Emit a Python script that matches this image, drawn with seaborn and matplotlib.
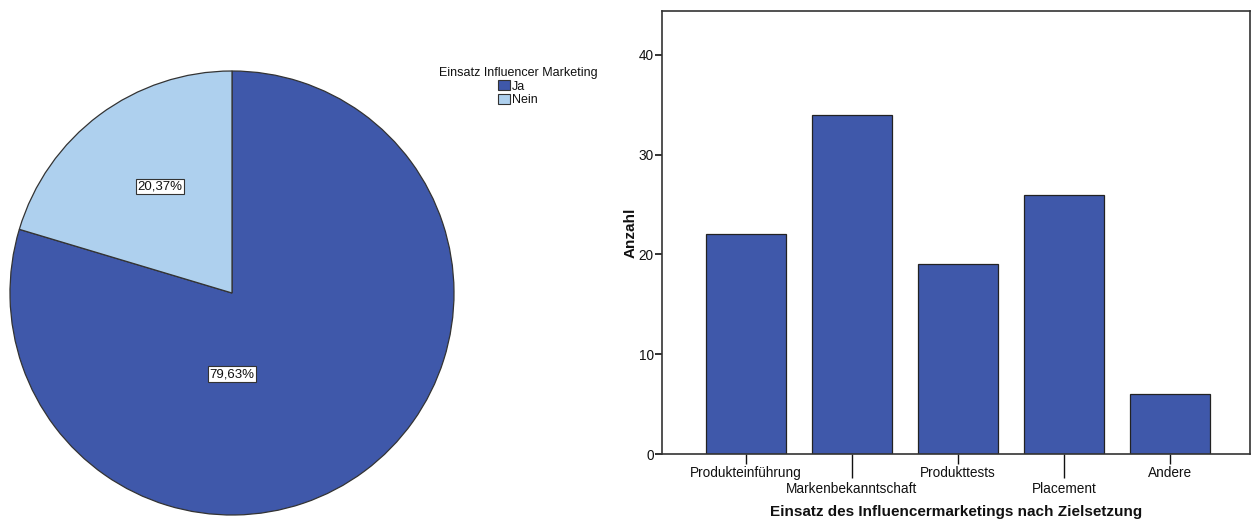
"""Pie of influencer marketing usage and bar chart of goals."""
import matplotlib
matplotlib.use("Agg")
import matplotlib.pyplot as plt
import matplotlib.transforms as mtransforms
import numpy as np
import pandas as pd
import seaborn as sns
from matplotlib.patches import Patch

# pie data
usage_labels = ["Ja", "Nein"]
usage_share = [79.63, 20.37]
usage_text = ["79,63%", "20,37%"]

# bar data
goals = ["Produkteinführung", "Markenbekanntschaft", "Produkttests", "Placement", "Andere"]
counts = [22, 34, 19, 26, 6]

dark_blue = "#3F58AA"
light_blue = "#AED0EE"

sns.set_style("ticks")
plt.rcParams["font.family"] = ["Liberation Sans", "DejaVu Sans"]
plt.rcParams["text.color"] = "#111111"
plt.rcParams["xtick.color"] = "#111111"
plt.rcParams["ytick.color"] = "#111111"
plt.rcParams["axes.labelcolor"] = "#111111"

fig = plt.figure(figsize=(12.54, 5.21), dpi=100)

# ---- pie ----
ax_pie = fig.add_axes([10 / 1254, 6 / 521, 444 / 1254, 444 / 521])
ax_pie.pie(
    usage_share,
    colors=[dark_blue, light_blue],
    startangle=90,
    counterclock=False,
    radius=1.0,
    wedgeprops={"edgecolor": "#333333", "linewidth": 0.9},
)
ax_pie.set_xlim(-1, 1)
ax_pie.set_ylim(-1, 1)
ax_pie.set_aspect("equal")
# SPSS-style label positions (fraction of the radius)
label_pos = [(0.0, -0.365), (-0.325, 0.48)]
for txt, (lx, ly) in zip(usage_text, label_pos):
    ax_pie.text(lx, ly, txt, ha="center", va="center", fontsize=9.5,
                bbox={"boxstyle": "square,pad=0.12", "fc": "white", "ec": "#333333", "lw": 0.8})

handles = [Patch(facecolor=c, edgecolor="#333333", linewidth=0.8) for c in (dark_blue, light_blue)]
leg = fig.legend(handles, usage_labels, title="Einsatz Influencer Marketing",
                 loc="upper left", bbox_to_anchor=(430 / 1254, 1 - 58 / 521),
                 frameon=False, fontsize=9, title_fontsize=9,
                 handlelength=0.9, handleheight=0.9, handletextpad=0.2,
                 labelspacing=0.1, borderpad=0.2)
leg._legend_box.align = "center"

# ---- bars ----
ax = fig.add_axes([662 / 1254, (521 - 454) / 521, (1250 - 662) / 1254, (454 - 11) / 521])
df = pd.DataFrame({"goal": goals, "count": counts})
sns.barplot(data=df, x="goal", y="count", ax=ax, color=dark_blue,
            saturation=1, width=0.755, edgecolor="#222222", linewidth=0.9)
ax.set_xlim(-0.79, 4.75)
ax.set_ylim(0, 44.4)
ax.set_yticks([0, 10, 20, 30, 40])
ax.set_xticks(range(len(goals)))
ax.set_xticklabels(goals, fontsize=9.8)
ax.tick_params(axis="y", labelsize=9.8, length=5, width=1.2, pad=1)
ax.tick_params(axis="x", length=7, width=1.0, pad=1.5)
# staggered labels: every second tick longer and its label shifted down
shift = mtransforms.ScaledTranslation(0, -11.5 / 72, fig.dpi_scale_trans)
for i, tick in enumerate(ax.xaxis.get_major_ticks()):
    if i % 2 == 1:
        tick.tick1line.set_markersize(17)
        tick.label1.set_transform(tick.label1.get_transform() + shift)
for s in ax.spines.values():
    s.set_color("#333333")
    s.set_linewidth(1.2)
ax.set_ylabel("Anzahl", fontsize=11, fontweight="bold", labelpad=1)
ax.set_xlabel("Einsatz des Influencermarketings nach Zielsetzung", fontsize=11,
              fontweight="bold", labelpad=5)
ax.xaxis.set_label_coords(0.5, -0.115)

fig.savefig("out.png", dpi=100)
